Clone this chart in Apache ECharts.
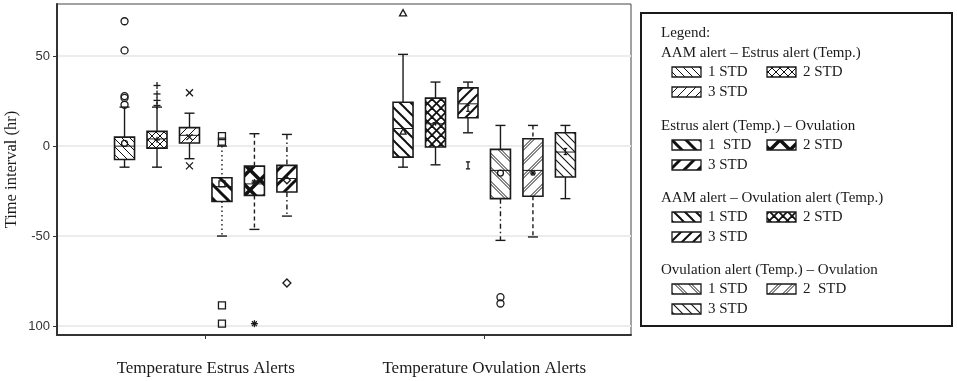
<!DOCTYPE html>
<html>
<head>
<meta charset="utf-8">
<script src="https://cdn.jsdelivr.net/npm/echarts@6/dist/echarts.min.js"></script>
<style>
html, body { margin: 0; padding: 0; background: #fff; }
#chart { width: 957px; height: 381px; }
</style>
</head>
<body>
<div id="chart"></div>
<script>
// categories on the x axis and which one each box belongs to
var categories = ['Temperature Estrus Alerts', 'Temperature Ovulation Alerts'];
var boxGroup = [0, 0, 0, 0, 0, 0, 1, 1, 1, 1, 1, 1];

// box statistics (hr)
var whiskerLow  = [-11.7, -11.7, -7, -50, -46.3, -38.9, -11.7, -10.4, 7.4, -52.4, -50.5, -29.2];
var quart1      = [-7.4, -1.1, 1.7, -30.8, -27.4, -25.5, -6.1, -0.5, 15.8, -29.2, -27.9, -17.2];
var medians     = [0, 4, 6, -22.5, -21, -18, 9.8, 12.4, 23.5, -13.5, -13.5, -3.3];
var quart3      = [5, 8.2, 10.3, -17.6, -11.1, -10.7, 24.4, 26.7, 32.4, -1.8, 4.1, 7.4];
var whiskerHigh = [21.7, 21.7, 18.3, 0, 6.9, 6.5, 51, 35.6, 35.6, 11.5, 11.5, 11.5];
var means       = [1.5, 3.5, 5, -21, -20, -19, 8, 13, 21, -15, -15, -3];
var outliers = [
    [69.4, 53.2, 27.8, 26.8, 23],
    [33.7, 29, 25.4, 22.6],
    [29.7, -11],
    [5.5, 2.5, -88.5, -98.7],
    [-98.7],
    [-76.1],
    [73.9],
    [],
    [-10.7],
    [-84, -87.5],
    [],
    []
];

var yTicks = [-100, -50, 0, 50];
var legendTitles = [
    'AAM alert – Estrus alert (Temp.)',
    'Estrus alert (Temp.) – Ovulation',
    'AAM alert – Ovulation alert (Temp.)',
    'Ovulation alert (Temp.) – Ovulation'
];
var stdLabels = [
    ['1 STD', '2 STD', '3 STD'],
    ['1  STD', '2 STD', '3 STD'],
    ['1 STD', '2 STD', '3 STD'],
    ['1 STD', '2  STD', '3 STD']
];

var serif = '"Liberation Serif", "DejaVu Serif", serif';
var ink = '#1a1a1a';

function hatch(size, width, dirs, pairGap) {
    var c = document.createElement('canvas');
    c.width = size;
    c.height = size;
    var g = c.getContext('2d');
    g.fillStyle = '#fff';
    g.fillRect(0, 0, size, size);
    g.strokeStyle = '#111';
    g.lineWidth = width;
    var offs = pairGap ? [-pairGap / 2, pairGap / 2] : [0];
    dirs.forEach(function (d) {
        offs.forEach(function (o) {
            for (var k = -2; k <= 2; k++) {
                g.beginPath();
                if (d === 'back') {
                    g.moveTo(k * size + o - size, -size);
                    g.lineTo(k * size + o + 2 * size, 2 * size);
                } else {
                    g.moveTo(k * size + o - size, 2 * size);
                    g.lineTo(k * size + o + 2 * size, -size);
                }
                g.stroke();
            }
        });
    });
    return { image: c, repeat: 'repeat' };
}

var patterns = [
    hatch(8, 1, ['back']),
    hatch(8, 1, ['back', 'fwd']),
    hatch(9, 1, ['fwd']),
    hatch(14, 3, ['back']),
    hatch(20, 3.5, ['back', 'fwd']),
    hatch(14, 3, ['fwd']),
    hatch(11, 2, ['back']),
    hatch(9, 1.8, ['back', 'fwd']),
    hatch(11, 2, ['fwd']),
    hatch(14, 1, ['back'], 3),
    hatch(14, 1, ['fwd'], 3),
    hatch(9, 1.1, ['back'])
];

var DOT = [1.5, 3], DASH = [4, 3], DASHDOT = [5, 3, 1.5, 3];
var boxStyles = [
    { up: null, down: null, sym: 'circle' },
    { up: null, down: null, sym: 'plus' },
    { up: null, down: null, sym: 'x' },
    { up: DOT, down: DOT, sym: 'square' },
    { up: DASH, down: DASH, sym: 'asterisk' },
    { up: DASHDOT, down: DASHDOT, sym: 'diamond' },
    { up: null, down: null, sym: 'triangle' },
    { up: null, down: null, sym: 'plus' },
    { up: null, down: null, sym: 'ibeam' },
    { up: null, down: DASHDOT, sym: 'circle' },
    { up: DASH, down: DASH, sym: 'asterisk' },
    { up: null, down: null, sym: 'ibeam' }
];
var slotStep = 0.1166;

function symbolEl(type, x, y, r) {
    var s = { stroke: ink, fill: null, lineWidth: 1.3 };
    function ln(x1, y1, x2, y2) {
        return { type: 'line', shape: { x1: x1, y1: y1, x2: x2, y2: y2 }, style: s };
    }
    switch (type) {
        case 'circle':
            return { type: 'circle', shape: { cx: x, cy: y, r: r }, style: s };
        case 'square':
            return { type: 'rect', shape: { x: x - r, y: y - r, width: 2 * r, height: 2 * r }, style: s };
        case 'diamond':
            return { type: 'polygon', shape: { points: [[x, y - r - 0.5], [x + r + 0.5, y], [x, y + r + 0.5], [x - r - 0.5, y]] }, style: s };
        case 'triangle':
            return { type: 'polygon', shape: { points: [[x, y - r], [x + r, y + r * 0.8], [x - r, y + r * 0.8]] }, style: s };
        case 'plus':
            return { type: 'group', children: [ln(x - r, y, x + r, y), ln(x, y - r, x, y + r)] };
        case 'x':
            return { type: 'group', children: [ln(x - r, y - r, x + r, y + r), ln(x - r, y + r, x + r, y - r)] };
        case 'asterisk':
            return { type: 'group', children: [
                ln(x - r, y, x + r, y), ln(x, y - r, x, y + r),
                ln(x - r * 0.7, y - r * 0.7, x + r * 0.7, y + r * 0.7),
                ln(x - r * 0.7, y + r * 0.7, x + r * 0.7, y - r * 0.7)
            ] };
        default:
            return { type: 'group', children: [
                ln(x, y - r, x, y + r), ln(x - r * 0.6, y - r, x + r * 0.6, y - r),
                ln(x - r * 0.6, y + r, x + r * 0.6, y + r)
            ] };
    }
}

function renderBox(params, api) {
    var i = api.value(0);
    var xv = boxGroup[i] + 1 + ((i % 6) - 2.5) * slotStep;
    var pLow = api.coord([xv, api.value(1)]);
    var pQ1 = api.coord([xv, api.value(2)]);
    var pMed = api.coord([xv, api.value(3)]);
    var pQ3 = api.coord([xv, api.value(4)]);
    var pHigh = api.coord([xv, api.value(5)]);
    var pMean = api.coord([xv, api.value(6)]);
    var cx = pQ1[0], hw = 10, cw = 5;
    var st = boxStyles[i];
    var lineSt = function (dash) {
        return { stroke: ink, lineWidth: 1.4, lineDash: dash || null };
    };
    var children = [
        { type: 'line', shape: { x1: cx, y1: pHigh[1], x2: cx, y2: pQ3[1] }, style: lineSt(st.up) },
        { type: 'line', shape: { x1: cx, y1: pQ1[1], x2: cx, y2: pLow[1] }, style: lineSt(st.down) },
        { type: 'line', shape: { x1: cx - cw, y1: pHigh[1], x2: cx + cw, y2: pHigh[1] }, style: lineSt() },
        { type: 'line', shape: { x1: cx - cw, y1: pLow[1], x2: cx + cw, y2: pLow[1] }, style: lineSt() },
        {
            type: 'rect',
            shape: { x: cx - hw, y: pQ3[1], width: 2 * hw, height: pQ1[1] - pQ3[1] },
            style: { fill: patterns[i], stroke: ink, lineWidth: 1.6 }
        },
        { type: 'line', shape: { x1: cx - hw, y1: pMed[1], x2: cx + hw, y2: pMed[1] }, style: { stroke: ink, lineWidth: 1 } },
        symbolEl(st.sym, cx, pMean[1], 3)
    ];
    outliers[i].forEach(function (v) {
        var p = api.coord([xv, v]);
        children.push(symbolEl(st.sym, cx, p[1], 3.5));
    });
    return { type: 'group', children: children };
}

var boxData = whiskerLow.map(function (v, i) {
    return [i, v, quart1[i], medians[i], quart3[i], whiskerHigh[i], means[i]];
});

// legend drawn as graphic elements
var legendFont = 15;
var legendEls = [
    { type: 'rect', shape: { x: 641, y: 13, width: 311, height: 313 }, style: { fill: '#fff', stroke: ink, lineWidth: 2 } },
    { type: 'text', style: { x: 661, y: 33, text: 'Legend:', fontSize: legendFont, fontFamily: serif, fill: ink, verticalAlign: 'middle' } }
];
var blockTop = [53, 126, 198, 270];
legendTitles.forEach(function (title, b) {
    var y0 = blockTop[b];
    legendEls.push({ type: 'text', style: { x: 661, y: y0, text: title, fontSize: legendFont, fontFamily: serif, fill: ink, verticalAlign: 'middle' } });
    var spots = [[672, y0 + 19], [767, y0 + 19], [672, y0 + 39]];
    stdLabels[b].forEach(function (lab, k) {
        var sx = spots[k][0], sy = spots[k][1];
        legendEls.push({
            type: 'rect',
            shape: { x: sx, y: sy - 5, width: 29, height: 10 },
            style: { fill: patterns[b * 3 + k], stroke: ink, lineWidth: 1.3 }
        });
        legendEls.push({ type: 'text', style: { x: sx + 36, y: sy, text: lab, fontSize: legendFont, fontFamily: serif, fill: ink, verticalAlign: 'middle' } });
    });
});

var chart = echarts.init(document.getElementById('chart'));
chart.setOption({
    animation: false,
    grid: {
        left: 57, right: 326, top: 4, bottom: 46,
        outerBoundsMode: 'none',
        show: true, borderColor: '#444', borderWidth: 1
    },
    xAxis: {
        type: 'value',
        min: 0.466,
        max: 2.527,
        splitLine: { show: false },
        axisLine: { onZero: false, lineStyle: { color: '#333', width: 2 } },
        axisTick: { customValues: [1, 2], length: 4, lineStyle: { color: '#333' } },
        axisLabel: {
            customValues: [1, 2],
            formatter: function (v) { return categories[Math.round(v) - 1]; },
            fontFamily: serif,
            fontSize: 17,
            color: ink,
            margin: 25
        }
    },
    yAxis: {
        type: 'value',
        min: -105,
        max: 79,
        name: 'Time interval (hr)',
        nameLocation: 'middle',
        nameGap: 37,
        nameMoveOverlap: false,
        nameTextStyle: { fontFamily: serif, fontSize: 16.5, color: ink },
        axisLine: { show: true, onZero: false, lineStyle: { color: '#333', width: 2 } },
        axisTick: { show: true, customValues: yTicks, length: 4, lineStyle: { color: '#333' } },
        axisLabel: {
            customValues: yTicks,
            formatter: function (v) { return v === -100 ? '100' : String(v); },
            fontSize: 13,
            color: '#333',
            margin: 7
        },
        splitLine: { show: true, lineStyle: { color: '#ececec', width: 2 } }
    },
    graphic: legendEls,
    series: [{
        type: 'custom',
        renderItem: renderBox,
        data: boxData,
        encode: { x: -1, y: [1, 2, 3, 4, 5] },
        clip: false
    }]
});
</script>
</body>
</html>
